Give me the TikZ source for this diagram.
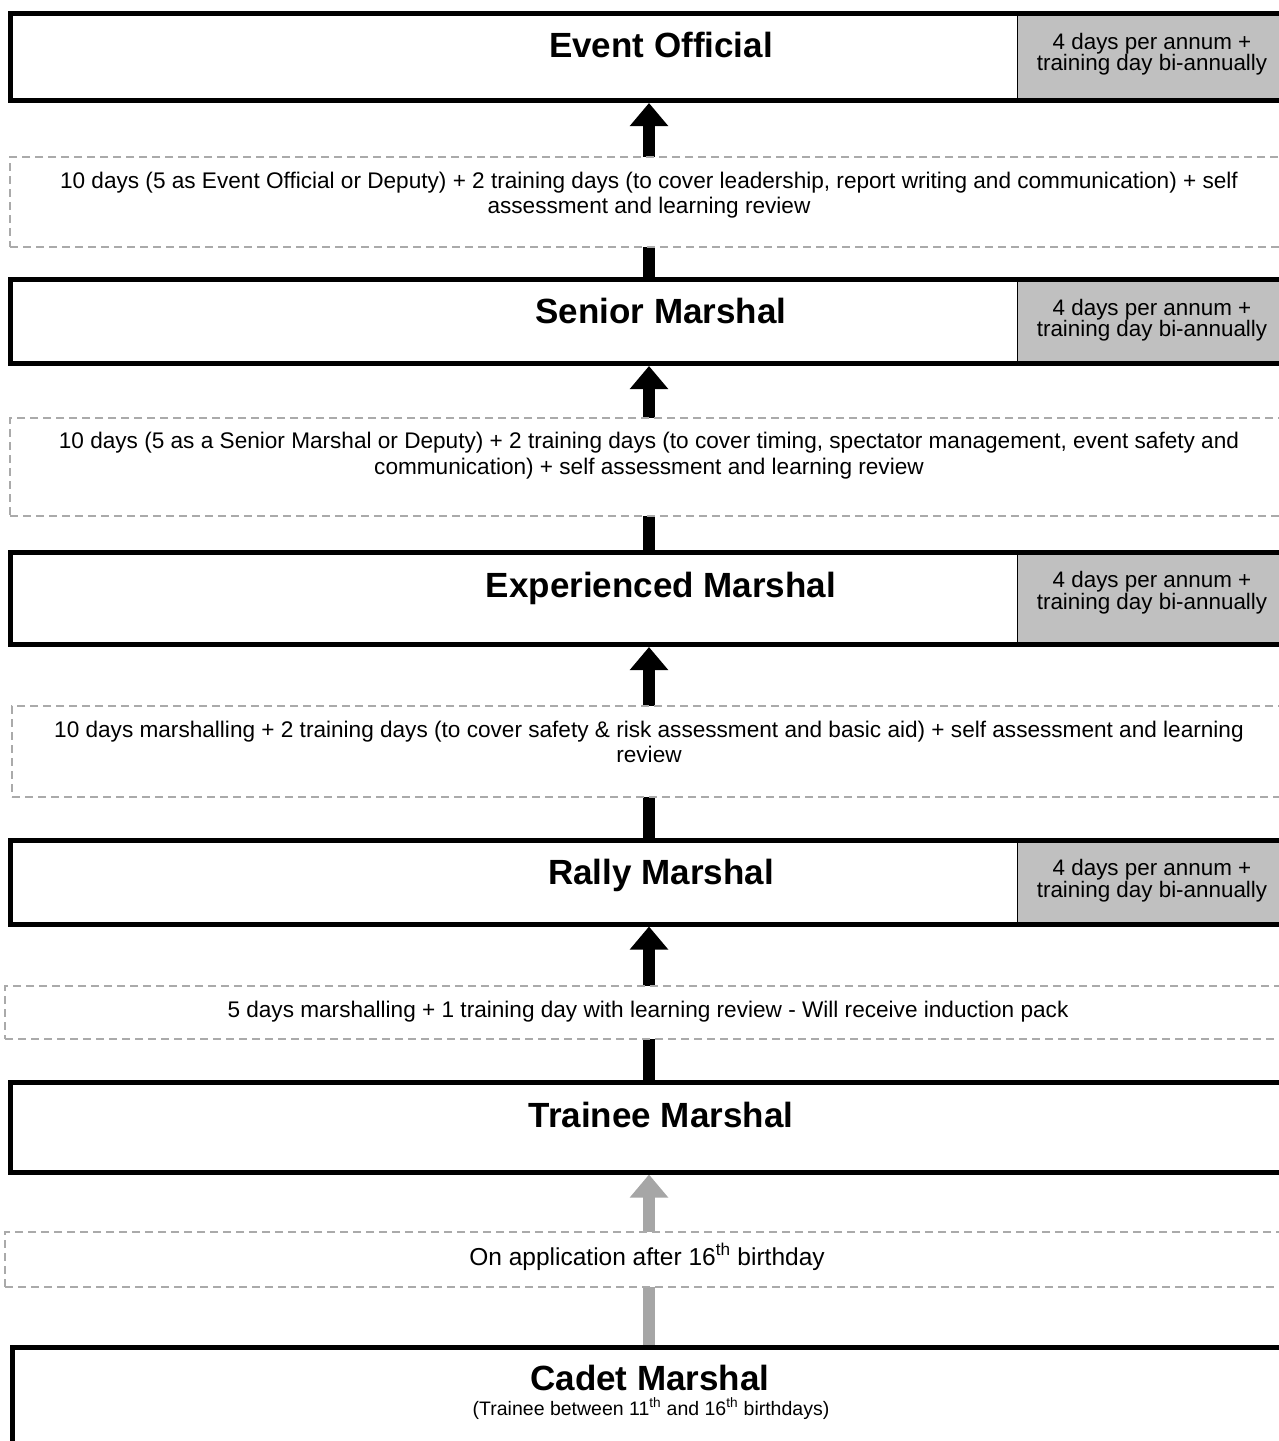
\documentclass[tikz,border=0pt]{standalone}
\usepackage{fontspec}
\setmainfont{Liberation Sans}
\usetikzlibrary{arrows.meta,backgrounds,calc}
\definecolor{dashgray}{RGB}{170,170,170}
\definecolor{cellgray}{RGB}{192,192,192}
\definecolor{arrowgray}{RGB}{166,166,166}
\begin{document}
\begin{tikzpicture}[x=1pt,y=-1pt,
  lvlbox/.style={draw=black,line width=5pt,rectangle,inner sep=0pt},
  cellbox/.style={fill=cellgray,rectangle,inner sep=0pt,anchor=north west},
  celltext/.style={align=center,font=\fontsize{22.4}{21.4}\selectfont,inner sep=0pt,anchor=base},
  reqbox/.style={draw=dashgray,fill=white,line width=1.5pt,dash pattern=on 8pt off 5pt,rectangle,inner sep=0pt},
  reqtext/.style={align=center,font=\fontsize{22.6}{25.5}\selectfont,inner sep=0pt,anchor=base},
  title/.style={font=\fontsize{35}{38}\selectfont\bfseries,inner sep=0pt,anchor=base},
  uparrow/.style={line width=12.5pt,-{Triangle[length=23pt,width=37pt]}},
]
\useasboundingbox (0,0) rectangle (1279,1441);
\clip (0,0) rectangle (1279,1441);
\coordinate (col) at (649,0);

% grey cells (behind the level boxes)
\node[cellbox,minimum width=290pt,minimum height=87pt] (evc) at (1017,13.5) {};
\node[cellbox,minimum width=290pt,minimum height=84pt] (smc) at (1017,279.5) {};
\node[cellbox,minimum width=290pt,minimum height=92.5pt] (emc) at (1017,552) {};
\node[cellbox,minimum width=290pt,minimum height=84pt] (rmc) at (1017,840) {};
\foreach \c in {evc,smc,emc,rmc}{\draw[line width=1pt] (\c.north west) -- (\c.south west);}

% level boxes
\node[lvlbox,minimum width=1302pt,minimum height=87pt] (ev) at (661,57) {};
\node[lvlbox,minimum width=1302pt,minimum height=84pt] (sm) at (661,321.5) {};
\node[lvlbox,minimum width=1302pt,minimum height=92.5pt] (em) at (661,598.25) {};
\node[lvlbox,minimum width=1302pt,minimum height=84pt] (rm) at (661,882) {};
\node[lvlbox,minimum width=1302pt,minimum height=90pt] (tm) at (661,1127) {};
\node[lvlbox,minimum width=1276pt,minimum height=96pt] (cm) at (650,1395) {};

% titles
\node[title] (evt) at (661,57) {Event Official};
\node[title] (smt) at (661,323.5) {Senior Marshal};
\node[title] (emt) at (661,597.5) {Experienced Marshal};
\node[title] (rmt) at (661,884.5) {Rally Marshal};
\node[title] (tmt) at (661,1127.5) {Trainee Marshal};
\node[title] (cmt) at (650,1390) {Cadet Marshal};
\node[inner sep=0pt,anchor=base,font=\fontsize{19.5}{22}\selectfont] (cms) at (651,1415)
  {(Trainee between 11\textsuperscript{th} and 16\textsuperscript{th} birthdays)};

% cell texts (base anchor = last line baseline)
\node[celltext] (evn) at (1152,70.5) {4 days per annum +\\training day bi-annually};
\node[celltext] (smn) at (1152,336.5) {4 days per annum +\\training day bi-annually};
\node[celltext] (emn) at (1152,609) {4 days per annum +\\training day bi-annually};
\node[celltext] (rmn) at (1152,897) {4 days per annum +\\training day bi-annually};

% connectors
\begin{scope}[on background layer]
\draw[uparrow] (sm.north -| col) -- (ev.south -| col);
\draw[uparrow] (em.north -| col) -- (sm.south -| col);
\draw[uparrow] (rm.north -| col) -- (em.south -| col);
\draw[uparrow] (tm.north -| col) -- (rm.south -| col);
\draw[uparrow,draw=arrowgray,fill=arrowgray] (cm.north -| col) -- (tm.south -| col);
\end{scope}

% requirement boxes
\node[reqbox,minimum width=1278pt,minimum height=90pt] (r1) at (649,202) {};
\node[reqbox,minimum width=1278pt,minimum height=98pt] (r2) at (649,467) {};
\node[reqbox,minimum width=1274pt,minimum height=91pt] (r3) at (649,751.5) {};
\node[reqbox,minimum width=1288pt,minimum height=53pt] (r4) at (649,1012.5) {};
\node[reqbox,minimum width=1288pt,minimum height=55pt] (r5) at (649,1259.5) {};

\node[reqtext] (r1t) at (649,213.5) {10 days (5 as Event Official or Deputy) + 2 training days (to cover leadership, report writing and communication) + self\\assessment and learning review};
\node[reqtext] (r2t) at (649,474) {10 days (5 as a Senior Marshal or Deputy) + 2 training days (to cover timing, spectator management, event safety and\\communication) + self assessment and learning review};
\node[reqtext] (r3t) at (649,762.5) {10 days marshalling + 2 training days (to cover safety \& risk assessment and basic aid) + self assessment and learning\\review};
\node[reqtext] (r4t) at (648,1017) {5 days marshalling + 1 training day with learning review - Will receive induction pack};
\node[reqtext,font=\fontsize{24.5}{27}\selectfont] (r5t) at (647,1265) {On application after 16\textsuperscript{th} birthday};
\end{tikzpicture}
\end{document}
